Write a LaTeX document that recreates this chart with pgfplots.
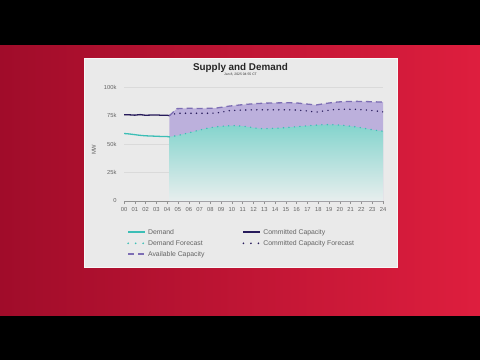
\documentclass[border=0pt]{standalone}
\usepackage{fontspec}
\setmainfont{Liberation Sans}
\usepackage{pgfplots}
\pgfplotsset{compat=1.18}
\definecolor{bgdark}{RGB}{160,12,42}
\definecolor{bglight}{RGB}{222,30,62}
\definecolor{panel}{RGB}{234,234,234}
\definecolor{teal1}{RGB}{60,190,182}
\definecolor{tealtop}{RGB}{132,212,205}
\definecolor{tealbot}{RGB}{232,238,238}
\definecolor{purp}{RGB}{188,176,220}
\definecolor{navy}{RGB}{40,28,92}
\definecolor{avail}{RGB}{125,110,180}
\definecolor{txt}{RGB}{100,100,100}
\definecolor{gridc}{RGB}{218,218,218}
\begin{document}
\begin{tikzpicture}[x=1bp,y=1bp]
\useasboundingbox (0,0) rectangle (480,360);
\fill[black] (0,0) rectangle (480,360);
\shade[left color=bgdark, right color=bglight] (0,45) rectangle (480,315);
\fill[panel, draw=white!97!black, line width=1bp] (84,93) rectangle (397,302);
\node[font=\fontsize{9.9}{11}\selectfont\bfseries, text=black!85] at (240.5,292) {Supply and Demand};
\node[font=\fontsize{3.4}{4}\selectfont, text=black!80] at (240.5,285) {Jan 8, 2025 04:55 CT};
\begin{axis}[
  at={(124bp,159bp)}, anchor=south west,
  width=259bp, height=114bp, scale only axis,
  xmin=0, xmax=24, ymin=0, ymax=100,
  axis x line*=bottom, axis y line*=left,
  y axis line style={draw=none},
  x axis line style={draw=txt!70, line width=0.6bp},
  xtick={0,...,24},
  xticklabels={00,01,02,03,04,05,06,07,08,09,10,11,12,13,14,15,16,17,18,19,20,21,22,23,24},
  ytick={0,25,50,75,100},
  yticklabels={0,25k,50k,75k,100k},
  ymajorgrids, grid style={gridc, line width=0.6bp},
  xtick style={draw=txt!70, line width=0.5bp},
  ytick style={draw=none},
  tick align=outside, major tick length=3bp,
  /pgf/number format/assume math mode=true,
  tick label style={font=\fontsize{5.8}{6}\selectfont, text=txt},
  yticklabel style={xshift=-1bp},
  ylabel={MW},
  every axis y label/.style={at={(axis description cs:-0.116,0.45)}, rotate=90, anchor=center, font=\fontsize{5.8}{6}\selectfont, text=txt},
  legend columns=2,
  legend style={at={(axis description cs:0,-0.21)}, anchor=north west, draw=none, fill=none,
    font=\fontsize{6.9}{8}\selectfont, text=txt, row sep=0.5bp,
    /tikz/every even column/.append style={column sep=36bp}},
  legend cell align=left,
]
% fills
\addplot[forget plot, draw=none, fill=purp] coordinates {
(4.2,74.8)(4.9,81)(6,81.3)(7,81.2)(8,81.3)(8.6,81.6)(9.8,83.3)(11,84.5)(12,85.3)(13,85.8)(14,86)(15,86.2)(16,86)(17,85)(17.8,84.2)(18.5,85.3)(19.5,86.6)(20.5,87.3)(21.5,87.4)(22.5,87.2)(23.5,86.9)(24,86.8)
} \closedcycle;
\addplot[forget plot, draw=none, top color=tealtop, bottom color=tealbot] coordinates {
(4.2,56.3)(5,57.5)(6,59.8)(7,62.2)(8,64.3)(9,65.5)(10,66.1)(11,65.6)(12,64.3)(12.6,63.5)(13.5,63.6)(14.4,64)(15.5,64.8)(16.5,65.6)(17.2,66.1)(18,66.7)(19,67)(20,66.6)(21,65.6)(22,64.2)(23,62.5)(24,61.2)
} \closedcycle;
% Demand
\addplot[teal1, line width=1.3bp, smooth, legend image post style={line width=1.9bp}] coordinates {
(0,59.2)(0.5,58.8)(1,58.2)(1.5,57.6)(2,57.2)(2.5,57.0)(3,56.8)(3.5,56.6)(4,56.5)(4.2,56.3)
};
\addlegendentry{Demand}
% Committed
\addplot[navy, line width=1.3bp, legend image post style={line width=1.9bp}] coordinates {
(0,75.6)(0.5,75.6)(1,75.3)(1.5,75.8)(2,75.2)(2.5,75.4)(3,75.5)(3.5,75.2)(4,75.3)(4.2,74.8)
};
\addlegendentry{Committed Capacity}
% Demand forecast
\addplot[teal1, line width=1.6bp, line cap=round, dash pattern=on 0bp off 5.5bp, smooth, legend image post style={line width=1.9bp, dash pattern=on 0bp off 7.5bp}] coordinates {
(4.2,56.3)(5,57.5)(6,59.8)(7,62.2)(8,64.3)(9,65.5)(10,66.1)(11,65.6)(12,64.3)(12.6,63.5)(13.5,63.6)(14.4,64)(15.5,64.8)(16.5,65.6)(17.2,66.1)(18,66.7)(19,67)(20,66.6)(21,65.6)(22,64.2)(23,62.5)(24,61.2)
};
\addlegendentry{Demand Forecast}
% Committed forecast
\addplot[navy, line width=1.6bp, line cap=round, dash pattern=on 0bp off 5.5bp, legend image post style={line width=1.9bp, dash pattern=on 0bp off 7.5bp}] coordinates {
(4.2,75)(4.9,77)(6,77)(7,77)(8,77)(8.6,77.2)(9.8,79.3)(11,79.8)(12,80)(13,80)(14,80)(15,80)(16,79.8)(17,79)(17.8,77.9)(18.5,79)(19.5,80.2)(20.5,80.5)(21.5,80.4)(22.5,79.8)(23.5,78.8)(24,78.2)
};
\addlegendentry{Committed Capacity Forecast}
% Available capacity
\addplot[avail, line width=1.3bp, dash pattern=on 6bp off 4bp, legend image post style={line width=1.9bp}] coordinates {
(4.2,74.8)(4.9,81)(6,81.3)(7,81.2)(8,81.3)(8.6,81.6)(9.8,83.3)(11,84.5)(12,85.3)(13,85.8)(14,86)(15,86.2)(16,86)(17,85)(17.8,84.2)(18.5,85.3)(19.5,86.6)(20.5,87.3)(21.5,87.4)(22.5,87.2)(23.5,86.9)(24,86.8)
};
\addlegendentry{Available Capacity}
\end{axis}
\end{tikzpicture}
\end{document}
